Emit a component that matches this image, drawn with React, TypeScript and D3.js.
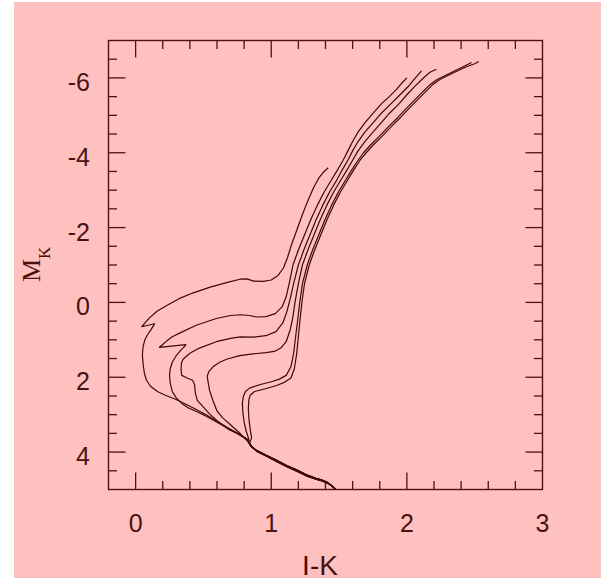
import { useEffect, useRef } from "react";
import * as d3 from "d3";

type Pt = [number, number]; // [I-K, M_K]

const X_DOMAIN: [number, number] = [-0.2, 3];
const Y_DOMAIN: [number, number] = [-7, 5];
const X_LABELS = [0, 1, 2, 3];
const Y_LABELS = [-6, -4, -2, 0, 2, 4];

// lower main sequence, shared by the younger and the older tracks
const MS_A: Pt[] = [
  [1.47, 4.98], [1.44, 4.88], [1.41, 4.8], [1.37, 4.74], [1.33, 4.7],
  [1.26, 4.61], [1.19, 4.48], [1.11, 4.35], [1.04, 4.22], [0.96, 4.08],
  [0.89, 3.95], [0.85, 3.84], [0.83, 3.72], [0.82, 3.65],
];
const MS_B: Pt[] = [
  [1.475, 4.99], [1.445, 4.9], [1.415, 4.83], [1.375, 4.77], [1.335, 4.73],
  [1.27, 4.65], [1.2, 4.53], [1.12, 4.4], [1.05, 4.27], [0.97, 4.12],
  [0.9, 3.99], [0.86, 3.88], [0.84, 3.76],
];

const ISO_1: Pt[] = [
  [0.75, 3.5], [0.67, 3.33], [0.6, 3.17], [0.52, 3.0], [0.44, 2.85],
  [0.36, 2.7], [0.29, 2.58], [0.22, 2.48], [0.16, 2.38], [0.11, 2.24],
  [0.08, 2.08], [0.065, 1.9], [0.055, 1.65], [0.05, 1.4], [0.055, 1.18],
  [0.068, 1.0], [0.09, 0.85], [0.115, 0.72], [0.135, 0.6], [0.14, 0.57],
  [0.045, 0.65], [0.1, 0.42], [0.16, 0.23], [0.23, 0.08], [0.32, -0.1],
  [0.42, -0.25], [0.55, -0.41], [0.67, -0.53], [0.77, -0.62], [0.82, -0.63],
  [0.87, -0.57], [0.94, -0.56], [1.0, -0.6], [1.05, -0.72], [1.09, -0.92],
  [1.12, -1.2], [1.15, -1.55], [1.19, -1.95], [1.23, -2.35], [1.27, -2.72],
  [1.31, -3.05], [1.35, -3.32], [1.39, -3.5], [1.42, -3.6],
];
const ISO_2: Pt[] = [
  [0.75, 3.5], [0.67, 3.34], [0.59, 3.18], [0.51, 3.02], [0.44, 2.9],
  [0.39, 2.82], [0.34, 2.7], [0.3, 2.55], [0.27, 2.38], [0.255, 2.15],
  [0.25, 1.95], [0.255, 1.78], [0.27, 1.6], [0.3, 1.42], [0.335, 1.27],
  [0.365, 1.16], [0.37, 1.13], [0.176, 1.2], [0.226, 1.04], [0.27, 0.92],
  [0.324, 0.82], [0.447, 0.61], [0.595, 0.43], [0.7, 0.35], [0.77, 0.33],
  [0.84, 0.35], [0.89, 0.39], [0.96, 0.38], [1.03, 0.3], [1.08, 0.12],
  [1.11, -0.15], [1.135, -0.55], [1.16, -1.0], [1.2, -1.4], [1.245, -1.8],
  [1.29, -2.2], [1.34, -2.6], [1.39, -2.95], [1.44, -3.25], [1.49, -3.55],
  [1.53, -3.8], [1.565, -4.05], [1.6, -4.3], [1.64, -4.55], [1.69, -4.8],
  [1.75, -5.05], [1.81, -5.3], [1.87, -5.5], [1.92, -5.68], [1.96, -5.85],
  [2.0, -6.0],
];
const ISO_3: Pt[] = [
  [0.75, 3.5], [0.69, 3.4], [0.62, 3.23], [0.545, 2.98], [0.5, 2.8],
  [0.455, 2.62], [0.44, 2.42], [0.435, 2.2], [0.42, 2.08], [0.38, 2.02],
  [0.34, 1.95], [0.335, 1.8], [0.338, 1.62], [0.35, 1.52], [0.4, 1.36],
  [0.47, 1.22], [0.595, 1.05], [0.7, 0.96], [0.77, 0.92], [0.865, 0.93],
  [0.96, 0.89], [1.035, 0.78], [1.085, 0.55], [1.115, 0.25], [1.14, -0.1],
  [1.165, -0.5], [1.2, -1.0], [1.24, -1.4], [1.285, -1.8], [1.33, -2.2],
  [1.38, -2.6], [1.43, -2.95], [1.48, -3.25], [1.525, -3.55], [1.565, -3.8],
  [1.6, -4.05], [1.64, -4.3], [1.69, -4.55], [1.75, -4.8], [1.81, -5.05],
  [1.88, -5.3], [1.95, -5.55], [2.01, -5.77], [2.05, -5.95], [2.108, -6.19],
];
const ISO_4: Pt[] = [
  [0.8, 3.62], [0.767, 3.49], [0.693, 3.25], [0.64, 3.08], [0.6, 2.9],
  [0.57, 2.62], [0.545, 2.35], [0.533, 2.1], [0.528, 1.97], [0.54, 1.85],
  [0.57, 1.72], [0.62, 1.6], [0.67, 1.52], [0.767, 1.42], [0.85, 1.38],
  [0.964, 1.34], [1.03, 1.3], [1.07, 1.22], [1.11, 1.05], [1.14, 0.73],
  [1.16, 0.38], [1.175, 0.0], [1.2, -0.5], [1.23, -1.0], [1.27, -1.4],
  [1.315, -1.8], [1.36, -2.2], [1.41, -2.6], [1.46, -2.95], [1.51, -3.25],
  [1.56, -3.55], [1.6, -3.8], [1.64, -4.05], [1.69, -4.3], [1.75, -4.55],
  [1.81, -4.8], [1.87, -5.05], [1.94, -5.3], [2.0, -5.55], [2.06, -5.78],
  [2.12, -5.99], [2.17, -6.15], [2.218, -6.23],
];
const ISO_5: Pt[] = [
  [0.83, 3.6], [0.816, 3.45], [0.8, 3.2], [0.791, 2.96], [0.787, 2.7],
  [0.795, 2.5], [0.81, 2.38], [0.84, 2.29], [0.914, 2.2], [1.0, 2.12],
  [1.06, 2.05], [1.11, 1.95], [1.145, 1.72], [1.165, 1.36], [1.18, 0.91],
  [1.195, 0.47], [1.21, 0.0], [1.23, -0.5], [1.265, -1.0], [1.305, -1.4],
  [1.35, -1.8], [1.395, -2.2], [1.445, -2.6], [1.495, -2.95], [1.545, -3.25],
  [1.595, -3.55], [1.64, -3.8], [1.68, -4.0], [1.73, -4.2], [1.8, -4.45],
  [1.87, -4.72], [1.935, -4.95], [2.0, -5.2], [2.06, -5.42], [2.12, -5.64],
  [2.17, -5.82], [2.22, -5.95], [2.32, -6.13], [2.415, -6.3], [2.477, -6.41],
];
const ISO_6: Pt[] = [
  [0.855, 3.62], [0.845, 3.4], [0.836, 3.14], [0.831, 2.85], [0.835, 2.6],
  [0.845, 2.48], [0.877, 2.38], [0.964, 2.3], [1.04, 2.22], [1.1, 2.13],
  [1.145, 2.02], [1.17, 1.78], [1.188, 1.36], [1.2, 0.91], [1.212, 0.47],
  [1.226, 0.0], [1.245, -0.5], [1.28, -1.0], [1.32, -1.4], [1.365, -1.8],
  [1.41, -2.2], [1.46, -2.6], [1.51, -2.95], [1.56, -3.25], [1.61, -3.55],
  [1.655, -3.8], [1.7, -4.0], [1.75, -4.2], [1.82, -4.45], [1.89, -4.72],
  [1.955, -4.95], [2.02, -5.2], [2.08, -5.42], [2.14, -5.64], [2.19, -5.82],
  [2.24, -5.95], [2.34, -6.13], [2.44, -6.3], [2.5, -6.38], [2.53, -6.44],
];

const ISOCHRONES: Pt[][] = [
  [...MS_A, ...ISO_1],
  [...MS_A, ...ISO_2],
  [...MS_A, ...ISO_3],
  [...MS_B, ...ISO_4],
  [...MS_B, ...ISO_5],
  [...MS_B, ...ISO_6],
];

const INK = "#4a1212";
const BG = "#ffc0c0";

export default function App() {
  const svgRef = useRef<SVGSVGElement>(null);

  useEffect(() => {
    if (!svgRef.current) return;
    const svg = d3.select(svgRef.current);
    svg.selectAll("*").remove();

    const W = 601;
    const H = 580;
    const left = 108.5;
    const right = 542.5;
    const top = 40.5;
    const bottom = 489.5;

    svg.append("rect").attr("width", W).attr("height", H).attr("fill", "#ffffff");
    svg
      .append("rect")
      .attr("x", 14)
      .attr("y", 2)
      .attr("width", W - 14)
      .attr("height", 576)
      .attr("fill", BG);

    const x = d3.scaleLinear().domain(X_DOMAIN).range([left, right]);
    const y = d3.scaleLinear().domain(Y_DOMAIN).range([top, bottom]);

    const g = svg.append("g");

    // ticks on all four sides, pointing in
    const MAJOR = 17;
    const MINOR = 8.5;
    const eps = 1e-6;
    const isMajorX = (v: number) => X_LABELS.some((t) => Math.abs(t - v) < eps);
    const isMajorY = (v: number) => Y_LABELS.some((t) => Math.abs(t - v) < eps);

    x.ticks(16)
      .filter((v) => v > X_DOMAIN[0] + eps && v < X_DOMAIN[1] - eps)
      .forEach((v) => {
        const len = isMajorX(v) ? MAJOR : MINOR;
        const px = x(v);
        g.append("line")
          .attr("x1", px).attr("x2", px)
          .attr("y1", bottom).attr("y2", bottom - len)
          .attr("stroke", INK).attr("stroke-width", 1.3);
        g.append("line")
          .attr("x1", px).attr("x2", px)
          .attr("y1", top).attr("y2", top + len)
          .attr("stroke", INK).attr("stroke-width", 1.3);
      });

    y.ticks(24)
      .filter((v) => v > Y_DOMAIN[0] + eps && v < Y_DOMAIN[1] - eps)
      .forEach((v) => {
        const len = isMajorY(v) ? MAJOR : MINOR;
        const py = y(v);
        g.append("line")
          .attr("x1", left).attr("x2", left + len)
          .attr("y1", py).attr("y2", py)
          .attr("stroke", INK).attr("stroke-width", 1.3);
        g.append("line")
          .attr("x1", right).attr("x2", right - len)
          .attr("y1", py).attr("y2", py)
          .attr("stroke", INK).attr("stroke-width", 1.3);
      });

    g.append("rect")
      .attr("x", left)
      .attr("y", top)
      .attr("width", right - left)
      .attr("height", bottom - top)
      .attr("fill", "none")
      .attr("stroke", INK)
      .attr("stroke-width", 1.4);

    // tick labels
    const font = "'Liberation Sans', Arial, Helvetica, sans-serif";
    X_LABELS.forEach((v) => {
      g.append("text")
        .attr("x", x(v))
        .attr("y", bottom + 42)
        .attr("text-anchor", "middle")
        .attr("font-family", font)
        .attr("font-size", 25)
        .attr("fill", INK)
        .text(String(v));
    });
    Y_LABELS.forEach((v) => {
      g.append("text")
        .attr("x", 90)
        .attr("y", y(v) + 13)
        .attr("text-anchor", "end")
        .attr("font-family", font)
        .attr("font-size", 25)
        .attr("fill", INK)
        .text(v < 0 ? `-${Math.abs(v)}` : String(v));
    });

    // axis titles
    g.append("text")
      .attr("x", 320)
      .attr("y", 575)
      .attr("text-anchor", "middle")
      .attr("font-family", font)
      .attr("font-size", 28)
      .attr("fill", INK)
      .text("I-K");

    const yt = g
      .append("text")
      .attr("transform", "translate(40,282) rotate(-90)")
      .attr("font-family", "'Liberation Serif', 'Times New Roman', serif")
      .attr("fill", INK);
    yt.append("tspan").attr("font-size", 26).text("M");
    yt.append("tspan").attr("font-size", 17).attr("dy", 10).text("K");

    // isochrones
    const line = d3
      .line<Pt>()
      .x((d) => x(d[0]))
      .y((d) => y(d[1]));

    ISOCHRONES.forEach((iso) => {
      g.append("path")
        .datum(iso)
        .attr("fill", "none")
        .attr("stroke", "#3d0808")
        .attr("stroke-width", 1.2)
        .attr("stroke-linejoin", "round")
        .attr("d", line);
    });
  }, []);

  return (
    <div style={{ position: "absolute", left: 0, top: 0 }}>
      <svg ref={svgRef} width={601} height={580} style={{ display: "block" }} />
    </div>
  );
}
